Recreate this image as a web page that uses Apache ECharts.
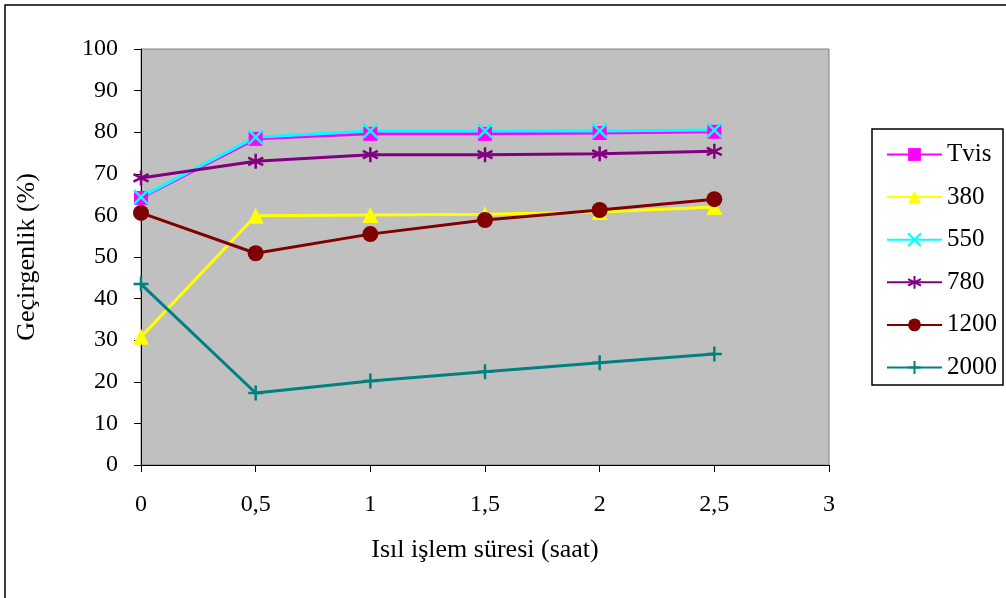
<!DOCTYPE html>
<html>
<head>
<meta charset="utf-8">
<script src="https://cdn.jsdelivr.net/npm/echarts@6/dist/echarts.min.js"></script>
<style>
html,body{margin:0;padding:0;background:#fff;}
#chart{width:1006px;height:598px;}
</style>
</head>
<body>
<div id="chart"></div>
<script>
// Heat-treatment time (hours)
const times = [0, 0.5, 1, 1.5, 2, 2.5];
const seriesNames = ['Tvis', '380', '550', '780', '1200', '2000'];
// Transmittance (%) per wavelength series
const tvis = [64.2, 78.4, 79.6, 79.6, 79.8, 80.1];
const w380 = [30.8, 59.9, 60.1, 60.3, 60.8, 62.0];
const w550 = [64.4, 78.8, 80.3, 80.3, 80.3, 80.5];
const w780 = [69.0, 73.0, 74.6, 74.6, 74.8, 75.4];
const w1200 = [60.6, 50.9, 55.5, 58.9, 61.3, 63.9];
const w2000 = [43.5, 17.3, 20.2, 22.4, 24.6, 26.7];
const yTicks = [0, 10, 20, 30, 40, 50, 60, 70, 80, 90, 100];
const xTicks = [0, 0.5, 1, 1.5, 2, 2.5, 3];

const FONT = '"Liberation Serif", "DejaVu Serif", serif';

const styles = [
  { color: '#FF00FF', symbol: 'rect', size: 14, stroke: false },
  { color: '#FFFF00', symbol: 'triangle', size: 16, stroke: false },
  { color: '#00FFFF', symbol: 'path://M0,0L10,10M10,0L0,10', size: 14, stroke: true },
  { color: '#800080', symbol: 'path://M5,0L5,10M0,2.5L10,7.5M0,7.5L10,2.5', size: 15, stroke: true },
  { color: '#800000', symbol: 'circle', size: 16, stroke: false },
  { color: '#008080', symbol: 'path://M5,0L5,10M0,5L10,5', size: 15, stroke: true }
];
const values = [tvis, w380, w550, w780, w1200, w2000];

const series = seriesNames.map((name, i) => {
  const s = styles[i];
  return {
    name: name,
    type: 'line',
    data: times.map((t, j) => [t, values[i][j]]),
    symbol: s.symbol,
    symbolSize: s.size,
    showAllSymbol: true,
    lineStyle: { color: s.color, width: 3 },
    itemStyle: s.stroke
      ? { color: 'rgba(0,0,0,0)', borderColor: s.color, borderWidth: 2.5 }
      : { color: s.color, borderWidth: 0 },
    emphasis: { disabled: true },
    animation: false
  };
});

const chart = echarts.init(document.getElementById('chart'));
chart.setOption({
  backgroundColor: '#fff',
  animation: false,
  grid: {
    left: 141, right: 177, top: 49, bottom: 133,
    show: true, backgroundColor: '#C0C0C0', borderColor: '#808080', borderWidth: 1
  },
  xAxis: {
    type: 'value', min: 0, max: 3, interval: 0.5,
    name: 'Isıl işlem süresi (saat)',
    nameLocation: 'middle', nameGap: 72,
    nameTextStyle: { fontFamily: FONT, fontSize: 26, color: '#000' },
    axisLine: { show: true, onZero: false, lineStyle: { color: '#000', width: 1 } },
    axisTick: { show: true, length: 7, lineStyle: { color: '#000' } },
    axisLabel: {
      fontFamily: FONT, fontSize: 24, color: '#000', margin: 28,
      formatter: v => xTicks.includes(v) ? String(v).replace('.', ',') : ''
    },
    splitLine: { show: false }
  },
  yAxis: {
    type: 'value', min: 0, max: 100, interval: 10,
    name: 'Geçirgenlik (%)',
    nameLocation: 'middle', nameGap: 101, nameRotate: 90,
    nameTextStyle: { fontFamily: FONT, fontSize: 26, color: '#000' },
    axisLine: { show: true, lineStyle: { color: '#000', width: 1 } },
    axisTick: { show: true, length: 7, lineStyle: { color: '#000' } },
    axisLabel: {
      fontFamily: FONT, fontSize: 24, color: '#000', margin: 23,
      formatter: v => yTicks.includes(v) ? String(v) : ''
    },
    splitLine: { show: false }
  },
  legend: {
    orient: 'vertical',
    left: 881, top: 137,
    itemWidth: 55, itemHeight: 16, itemGap: 17.6,
    selectedMode: false,
    textStyle: { fontFamily: FONT, fontSize: 25, color: '#000', lineHeight: 25 },
    data: seriesNames
  },
  graphic: [
    { type: 'rect', silent: true, z: -1,
      shape: { x: 5, y: 5, width: 1200, height: 800 },
      style: { fill: 'none', stroke: '#000', lineWidth: 1.5 } },
    { type: 'rect', silent: true,
      shape: { x: 872, y: 129, width: 131, height: 256 },
      style: { fill: '#fff', stroke: '#000', lineWidth: 1.5 }, z: 0 }
  ],
  series: series
});
</script>
</body>
</html>
